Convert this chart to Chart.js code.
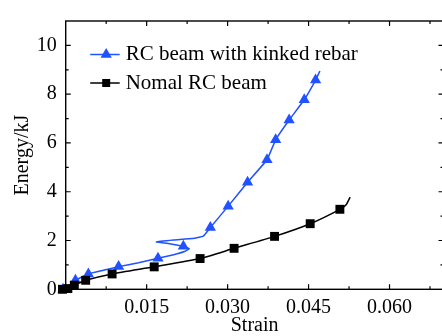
<!DOCTYPE html>
<html><head><meta charset="utf-8">
<script src="https://cdn.jsdelivr.net/npm/chart.js@4/dist/chart.umd.min.js"></script>
<style>
html,body{margin:0;padding:0;background:#fff;overflow:hidden;}
#wrap{width:442px;height:336px;overflow:hidden;position:relative;}
canvas{display:block;}
</style></head><body>
<div id="wrap"><canvas id="c" width="450" height="336"></canvas></div>
<script>
// ---- data ----
const seriesLabels = ['RC beam with kinked rebar', 'Nomal RC beam'];
const kinkedStrain = [-0.0005, 0.0004, 0.0010, 0.0018, 0.0042, 0.0070, 0.0098, 0.0135, 0.0171, 0.0200, 0.0220, 0.0229, 0.0218, 0.0190, 0.0168, 0.0200, 0.0235, 0.0255, 0.0268, 0.0301, 0.0337, 0.0373, 0.0389, 0.0414, 0.0442, 0.0463, 0.0471];
const kinkedEnergy = [0.00, 0.08, 0.20, 0.37, 0.63, 0.78, 0.93, 1.09, 1.27, 1.42, 1.55, 1.67, 1.76, 1.88, 1.94, 2.02, 2.08, 2.18, 2.53, 3.41, 4.39, 5.31, 6.13, 6.94, 7.77, 8.58, 8.95];
const kinkedMarker = [1, 0, 0, 1, 1, 0, 1, 0, 1, 0, 0, 0, 1, 0, 0, 0, 0, 0, 1, 1, 1, 1, 1, 1, 1, 1, 0];
const normalStrain = [-0.0006, 0.0004, 0.0016, 0.0037, 0.0086, 0.0164, 0.0249, 0.0312, 0.0387, 0.0453, 0.0508, 0.0520, 0.0527];
const normalEnergy = [0.00, 0.03, 0.17, 0.37, 0.63, 0.92, 1.26, 1.68, 2.17, 2.69, 3.28, 3.48, 3.78];
const normalMarker = [1, 1, 1, 1, 1, 1, 1, 1, 1, 1, 1, 0, 0];
const xTickValues = [0.015, 0.030, 0.045, 0.060];
const yTickValues = [0, 2, 4, 6, 8, 10];
const xRange = [0, 0.07];
const yRange = [0, 11];
const axisTitles = ['Strain', 'Energy/kJ'];

// ---- styles ----
const BLUE = '#2152ff';
const FONT = '"Liberation Serif", "Times New Roman", serif';

const toPts = (xs, ys) => xs.map((v, i) => ({x: v, y: ys[i]}));

const framePlugin = {
  id: 'frame',
  beforeDatasetsDraw(chart) {
    const {ctx, chartArea: a, scales: {x, y}} = chart;
    ctx.save();
    ctx.strokeStyle = '#000';
    ctx.lineWidth = 1.4;
    ctx.strokeRect(a.left, a.top, a.right - a.left, a.bottom - a.top);
    ctx.lineWidth = 1.2;
    const MAJ = 5, MIN = 3;
    const xs = xTickValues[1] - xTickValues[0];
    for (let v = xs / 2; v < xRange[1] - 1e-9; v += xs / 2) {
      const isMaj = Math.abs(Math.round(v / xs) * xs - v) < 1e-9;
      const L = isMaj ? MAJ : MIN;
      const px = x.getPixelForValue(v);
      ctx.beginPath();
      ctx.moveTo(px, a.bottom); ctx.lineTo(px, a.bottom - L);
      ctx.moveTo(px, a.top); ctx.lineTo(px, a.top + L);
      ctx.stroke();
    }
    const ys = yTickValues[1] - yTickValues[0];
    for (let v = ys / 2; v < yRange[1] - 1e-9; v += ys / 2) {
      const isMaj = Math.abs(Math.round(v / ys) * ys - v) < 1e-9;
      const L = isMaj ? MAJ : MIN;
      const py = y.getPixelForValue(v);
      ctx.beginPath();
      ctx.moveTo(a.left, py); ctx.lineTo(a.left + L, py);
      ctx.moveTo(a.right, py); ctx.lineTo(a.right - L, py);
      ctx.stroke();
    }
    ctx.restore();
  },
  afterDraw(chart) {
    const {ctx, chartArea: a} = chart;
    ctx.save();
    const items = [
      {label: seriesLabels[0], color: BLUE, shape: 'triangle', y: a.top + 33.5},
      {label: seriesLabels[1], color: '#000', shape: 'rect', y: a.top + 62}
    ];
    items.forEach(it => {
      const x0 = a.left + 24.5, x1 = a.left + 54, cx = a.left + 40.5;
      ctx.strokeStyle = it.color; ctx.lineWidth = 1.5;
      ctx.beginPath(); ctx.moveTo(x0, it.y); ctx.lineTo(x1, it.y); ctx.stroke();
      ctx.fillStyle = it.color;
      ctx.beginPath();
      if (it.shape === 'triangle') {
        const r = 6.5;
        ctx.moveTo(cx, it.y - r);
        ctx.lineTo(cx + r * 0.866, it.y + r / 2);
        ctx.lineTo(cx - r * 0.866, it.y + r / 2);
        ctx.closePath();
      } else {
        const s = 4;
        ctx.rect(cx - s, it.y - s, 2 * s, 2 * s);
      }
      ctx.fill();
      ctx.fillStyle = '#000';
      ctx.font = '21px ' + FONT;
      ctx.textBaseline = 'middle';
      ctx.textAlign = 'left';
      ctx.fillText(it.label, a.left + 60, it.y);
    });
    ctx.restore();
  }
};

new Chart(document.getElementById('c'), {
  type: 'scatter',
  data: {
    datasets: [
      {
        label: seriesLabels[1],
        data: toPts(normalStrain, normalEnergy),
        showLine: true,
        borderColor: '#000',
        backgroundColor: '#000',
        borderWidth: 1.5,
        pointStyle: 'rect',
        pointRadius: normalMarker.map(m => m ? 6.3 : 0),
        pointBorderWidth: 0,
        tension: 0.2,
        clip: false
      },
      {
        label: seriesLabels[0],
        data: toPts(kinkedStrain, kinkedEnergy),
        showLine: true,
        borderColor: BLUE,
        backgroundColor: BLUE,
        borderWidth: 1.5,
        pointStyle: 'triangle',
        pointRadius: kinkedMarker.map(m => m ? 6.5 : 0),
        pointBorderWidth: 0,
        tension: 0.1,
        clip: false
      }
    ]
  },
  options: {
    responsive: false,
    animation: false,
    devicePixelRatio: 1,
    layout: {padding: {top: 9.5, right: 5, bottom: 0, left: 0}},
    plugins: {legend: {display: false}, tooltip: {enabled: false}},
    scales: {
      x: {
        type: 'linear',
        min: xRange[0], max: xRange[1],
        afterFit(s) { s.height = 46.7; },
        afterBuildTicks(s) { s.ticks = xTickValues.map(v => ({value: v})); },
        grid: {display: false, drawTicks: false},
        border: {display: false},
        ticks: {
          color: '#000', padding: 6,
          font: {family: FONT, size: 20},
          maxRotation: 0, autoSkip: false,
          callback: v => Number(v).toFixed(3)
        },
        title: {display: true, text: axisTitles[0], color: '#000',
          font: {family: FONT, size: 20, lineHeight: 1}, padding: {top: 0, bottom: 0}}
      },
      y: {
        type: 'linear',
        min: yRange[0], max: yRange[1],
        afterFit(s) { s.width = 65.7; },
        afterBuildTicks(s) { s.ticks = yTickValues.map(v => ({value: v})); },
        grid: {display: false, drawTicks: false},
        border: {display: false},
        ticks: {
          color: '#000', padding: 9,
          font: {family: FONT, size: 20},
          autoSkip: false,
          callback: v => String(v)
        },
        title: {display: true, text: axisTitles[1], color: '#000',
          font: {family: FONT, size: 20, lineHeight: 1}, padding: {top: 13, bottom: 0}}
      }
    }
  },
  plugins: [framePlugin]
});
</script>
</body></html>
